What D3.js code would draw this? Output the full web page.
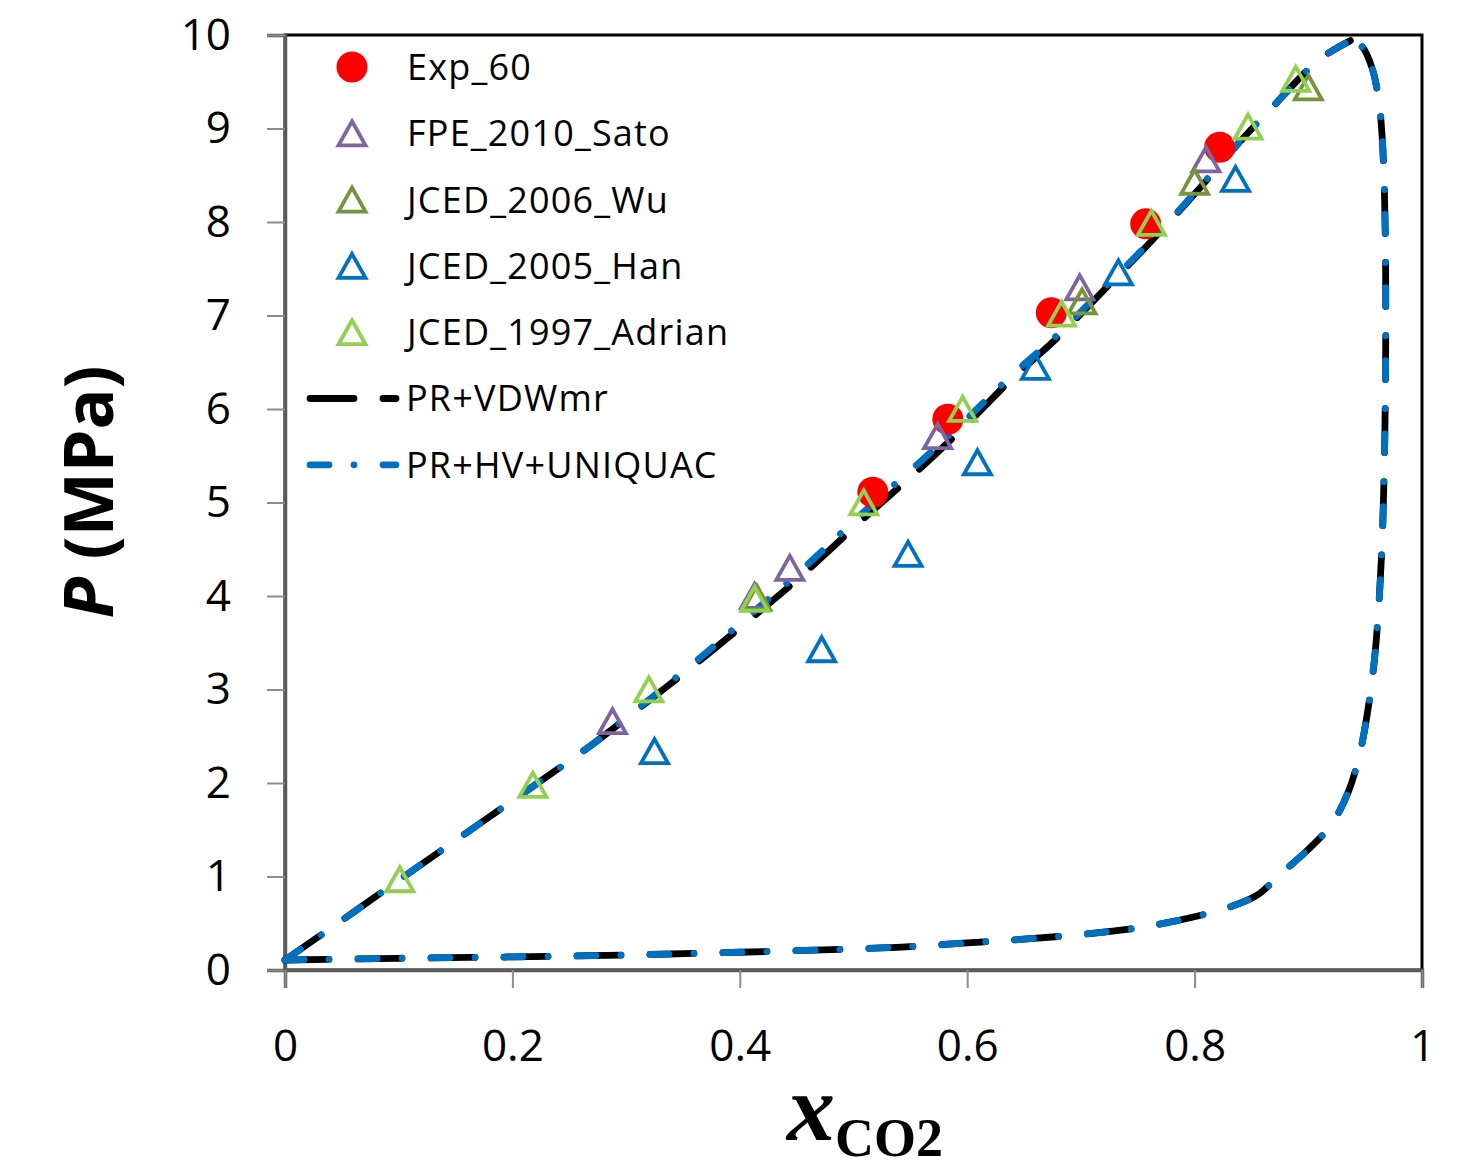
<!DOCTYPE html>
<html><head><meta charset="utf-8">
<script src="https://cdn.jsdelivr.net/npm/d3@7"></script>
<style>body{margin:0;background:#fff}</style>
</head><body>
<svg id="c" width="1473" height="1171"></svg>
<script>
// ---- data ----
const xTicks = [0, 0.2, 0.4, 0.6, 0.8, 1];
const yTicks = [0,1,2,3,4,5,6,7,8,9,10];

const exp60 = [[0.517,5.11],[0.583,5.89],[0.674,7.03],[0.757,7.98],[0.822,8.80]];
const sato2010 = [[0.288,2.65],[0.413,3.99],[0.444,4.29],[0.574,5.70],[0.699,7.29],[0.810,8.66]];
const wu2006 = [[0.415,3.97],[0.701,7.14],[0.800,8.42],[0.900,9.43]];
const han2005 = [[0.325,2.33],[0.472,3.42],[0.548,4.44],[0.609,5.42],[0.660,6.44],[0.733,7.45],[0.836,8.45]];
const adrian1997 = [[0.101,0.96],[0.218,1.97],[0.320,2.99],[0.413,3.96],[0.509,4.99],[0.596,5.99],[0.683,7.01],[0.762,7.98],[0.847,9.01],[0.889,9.52]];

const vdwBubble = [[0,0.107],[0.05,0.53],[0.1,0.96],[0.16,1.47],[0.22,1.98],[0.27,2.41],[0.32,2.88],[0.37,3.36],[0.41,3.76],[0.45,4.17],[0.51,4.84],[0.56,5.38],[0.6,5.84],[0.64,6.33],[0.68,6.77],[0.72,7.27],[0.76,7.77],[0.8,8.3],[0.84,8.86],[0.87,9.25],[0.91,9.74],[0.937,9.94]];
const vdwDew = [[0,0.107],[0.1,0.125],[0.2,0.14],[0.3,0.16],[0.4,0.19],[0.5,0.225],[0.55,0.25],[0.6,0.29],[0.65,0.33],[0.7,0.38],[0.75,0.45],[0.8,0.57],[0.83,0.67],[0.855,0.8],[0.875,1.02],[0.9,1.29],[0.92,1.55],[0.935,1.9],[0.945,2.3],[0.952,2.75],[0.958,3.3],[0.962,3.9],[0.965,4.6],[0.967,5.5],[0.968,6.5],[0.968,7.5],[0.967,8.3],[0.965,8.9],[0.962,9.3],[0.956,9.65],[0.947,9.88],[0.937,9.94]];
const uniBubble = [[0,0.107],[0.05,0.53],[0.1,0.96],[0.16,1.47],[0.22,1.98],[0.27,2.41],[0.32,2.89],[0.37,3.39],[0.41,3.81],[0.45,4.23],[0.51,4.91],[0.56,5.45],[0.6,5.9],[0.64,6.37],[0.68,6.8],[0.72,7.29],[0.76,7.78],[0.8,8.31],[0.84,8.86],[0.87,9.25],[0.91,9.74],[0.937,9.94]];
const uniDew = [[0,0.107],[0.1,0.125],[0.2,0.14],[0.3,0.16],[0.4,0.19],[0.5,0.225],[0.55,0.25],[0.6,0.29],[0.65,0.33],[0.7,0.38],[0.75,0.45],[0.8,0.57],[0.83,0.67],[0.855,0.8],[0.875,1.02],[0.9,1.29],[0.92,1.55],[0.935,1.9],[0.945,2.3],[0.952,2.75],[0.958,3.3],[0.962,3.9],[0.965,4.6],[0.967,5.5],[0.968,6.5],[0.968,7.5],[0.967,8.3],[0.965,8.9],[0.962,9.3],[0.956,9.65],[0.947,9.88],[0.937,9.94]];

const legendItems = [
  {label:"Exp_60", type:"circle", color:"#FF0000"},
  {label:"FPE_2010_Sato", type:"tri", color:"#8064A2"},
  {label:"JCED_2006_Wu", type:"tri", color:"#77933C"},
  {label:"JCED_2005_Han", type:"tri", color:"#0070C0"},
  {label:"JCED_1997_Adrian", type:"tri", color:"#92D050"},
  {label:"PR+VDWmr", type:"vdw", color:"#000000"},
  {label:"PR+HV+UNIQUAC", type:"uni", color:"#0070C0"}
];

// ---- layout ----
const L = 285, R = 1422, T = 35, B = 970;
const svg = d3.select("#c");
const x = d3.scaleLinear().domain([0,1]).range([L,R]);
const y = d3.scaleLinear().domain([0,10]).range([B,T]);
const font = "'Open Sans', sans-serif";

// frame
svg.append("rect").attr("x",L).attr("y",T).attr("width",R-L).attr("height",B-T)
  .attr("fill","none").attr("stroke","#000").attr("stroke-width",3);

// axes
const yAx = svg.append("g").attr("transform",`translate(${L},0)`)
  .call(d3.axisLeft(y).tickValues(yTicks).tickSize(18).tickPadding(36).tickFormat(d3.format("d")));
const xAx = svg.append("g").attr("transform",`translate(0,${B})`)
  .call(d3.axisBottom(x).tickValues(xTicks).tickSize(18).tickPadding(34).tickFormat(d => d===0?"0":d===1?"1":d3.format(".1f")(d)));
[yAx,xAx].forEach(g=>{
  g.select(".domain").attr("stroke","#595959").attr("stroke-width",3.5);
  g.selectAll(".tick line").attr("stroke","#8c8c8c").attr("stroke-width",2);
  g.selectAll(".tick text").attr("fill","#000").style("font-family",font).style("font-size","44px");
});
xAx.selectAll(".tick text").attr("dy","0.88em");

// lines
const line = d3.line().x(d=>x(d[0])).y(d=>y(d[1])).curve(d3.curveCatmullRom.alpha(0.5));
const W = 6.8;
const vdwDash = "44,29", uniDash = "19,25,0.01,28.99";
[vdwBubble, vdwDew].forEach(d=>{
  svg.append("path").datum(d).attr("d",line).attr("fill","none").attr("stroke","#000")
    .attr("stroke-width",W).attr("stroke-linecap","round").attr("stroke-dasharray",vdwDash);
});
[uniBubble, uniDew].forEach(d=>{
  svg.append("path").datum(d).attr("d",line).attr("fill","none").attr("stroke","#0070C0")
    .attr("stroke-width",W).attr("stroke-linecap","round").attr("stroke-dasharray",uniDash);
});

// markers
const triPath = "M0,-13L13.5,11L-13.5,11Z";
function tris(data,color){
  svg.append("g").selectAll("path").data(data).join("path")
    .attr("d",triPath).attr("transform",d=>`translate(${x(d[0])},${y(d[1])})`)
    .attr("fill","none").attr("stroke",color).attr("stroke-width",3.8).attr("stroke-linejoin","miter");
}
svg.append("g").selectAll("circle").data(exp60).join("circle")
  .attr("cx",d=>x(d[0])).attr("cy",d=>y(d[1])).attr("r",15.5).attr("fill","#FF0000");
tris(sato2010,"#8064A2");
tris(wu2006,"#77933C");
tris(han2005,"#0070C0");
tris(adrian1997,"#92D050");

// legend
const lg = svg.append("g");
legendItems.forEach((it,i)=>{
  const cy = 67 + i*66.3;
  if(it.type==="circle"){
    lg.append("circle").attr("cx",352).attr("cy",cy).attr("r",15.5).attr("fill",it.color);
  } else if(it.type==="tri"){
    lg.append("path").attr("d",triPath).attr("transform",`translate(352,${cy+1})`)
      .attr("fill","none").attr("stroke",it.color).attr("stroke-width",3.8);
  } else {
    lg.append("path").attr("d",`M${310},${cy}L${396},${cy}`).attr("fill","none")
      .attr("stroke",it.color).attr("stroke-width",W).attr("stroke-linecap","round")
      .attr("stroke-dasharray", it.type==="vdw"?vdwDash:uniDash);
  }
  lg.append("text").attr("x", it.type==="vdw"||it.type==="uni"?406:407).attr("y",cy).attr("dy","0.36em")
    .style("font-family",font).style("font-size","36px").style("letter-spacing","1.2px")
    .attr("fill","#000").text(it.label);
});

// axis titles
const yt = svg.append("text").attr("transform","translate(113,492) rotate(-90)")
  .attr("text-anchor","middle").style("font-family",font).style("font-size","68px").style("font-weight","bold");
yt.append("tspan").style("font-style","italic").text("P");
yt.append("tspan").text(" (MPa)");

const xt = svg.append("text").attr("x",865).attr("y",1140).attr("text-anchor","middle")
  .style("font-family","'Liberation Serif', serif").style("font-weight","bold");
xt.append("tspan").style("font-style","italic").style("font-size","96px").text("x");
xt.append("tspan").style("font-size","54px").attr("dy",16).text("CO2");
</script>
</body></html>
